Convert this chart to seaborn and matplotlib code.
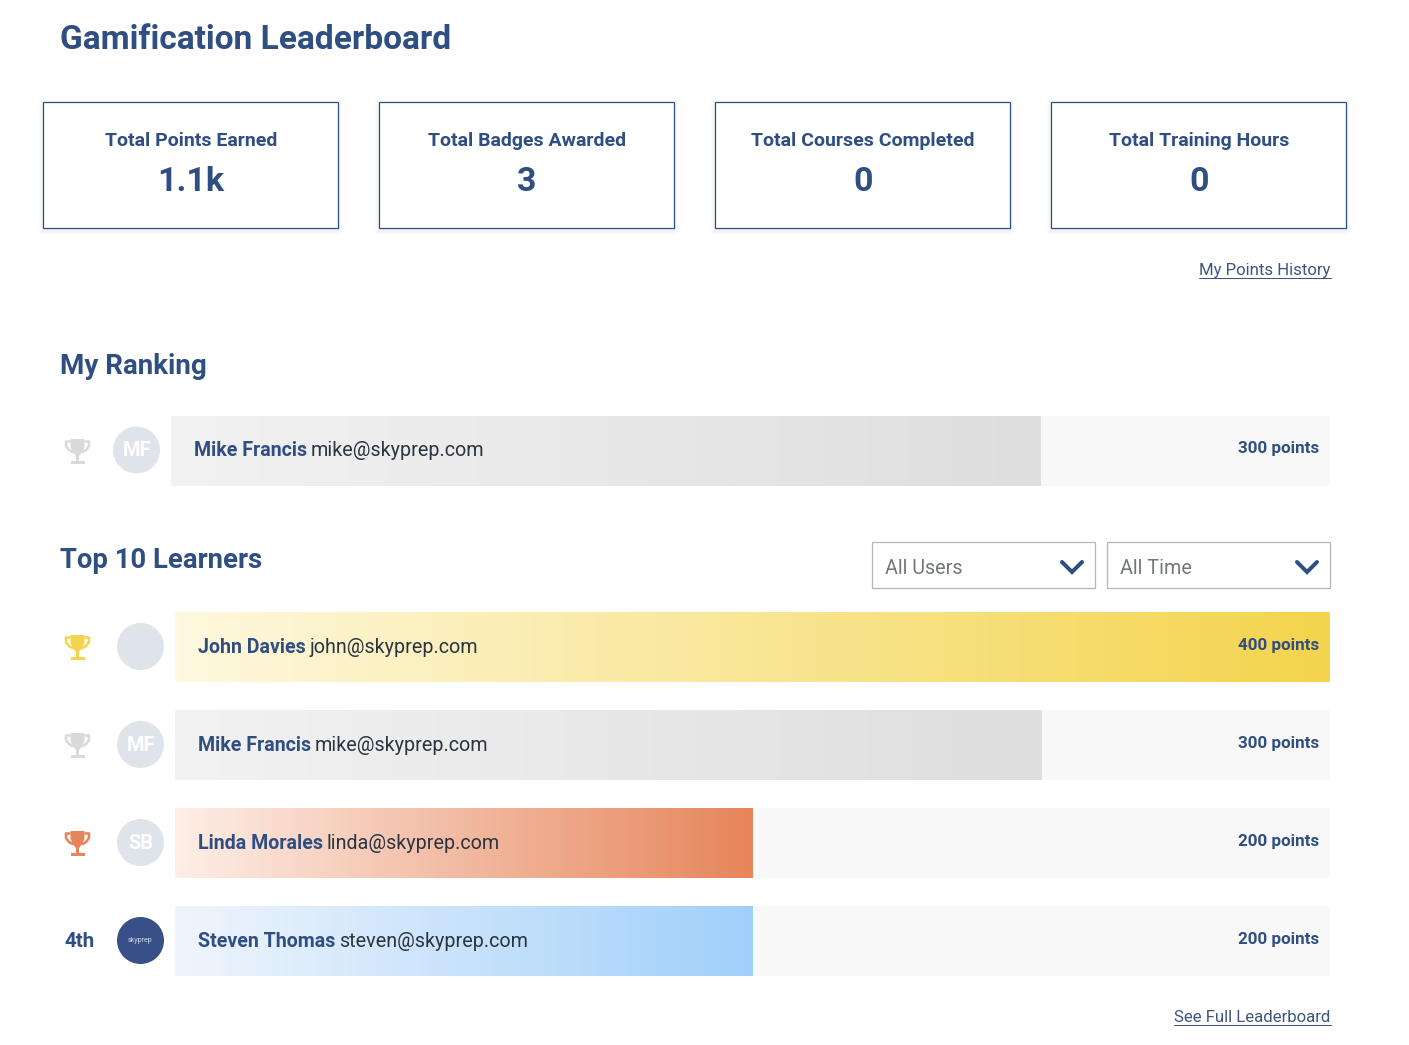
import matplotlib
matplotlib.use("Agg")
import matplotlib.pyplot as plt
import numpy as np
import seaborn as sns
from matplotlib.colors import LinearSegmentedColormap
from matplotlib.patches import Circle, Polygon, Rectangle

# DATA
card_titles = ["Total Points Earned", "Total Badges Awarded", "Total Courses Completed", "Total Training Hours"]
card_values = ["1.1k", "3", "0", "0"]

my_name = ["Mike Francis"]
my_email = ["mike@skyprep.com"]
my_points = [300]

names = ["John Davies", "Mike Francis", "Linda Morales", "Steven Thomas"]
emails = ["john@skyprep.com", "mike@skyprep.com", "linda@skyprep.com", "steven@skyprep.com"]
points = [400, 300, 200, 200]
initials = ["", "MF", "SB", "skyprep"]
max_points = 400

# STYLE
W, H = 1409, 1045
NAVY = "#2F4E82"
DARK = "#2B3440"
TRACK = "#F8F8F8"
GOLD = ("#FEF8DF", "#F4D44D")
SILVER = ("#F2F2F2", "#DEDEDE")
BRONZE = ("#FEEEE7", "#E6855B")
BLUE = ("#F0F5FC", "#A0D0FA")

sns.set_theme(style="white")
plt.rcParams["font.family"] = ["Roboto", "DejaVu Sans"]


def px(size):
    return size * 0.72


def bar_axes(fig, left, right, top, bottom):
    return fig.add_axes([left / W, 1 - bottom / H, (right - left) / W, (bottom - top) / H])


def gradient_bars(ax, labels, values, colors, width):
    # grey track at full scale, coloured bar on top with a gradient fill
    sns.barplot(x=[max_points] * len(labels), y=labels, color=TRACK, saturation=1, width=width, ax=ax)
    sns.barplot(x=values, y=labels, color=TRACK, saturation=1, width=width, ax=ax)
    for patch in ax.patches:
        patch.set_snap(False)
        patch.set_linewidth(0)
    for patch, (c0, c1) in zip(ax.containers[-1], colors):
        cmap = LinearSegmentedColormap.from_list("grad", [c0, c1])
        x0, y0 = patch.get_x(), patch.get_y()
        extent = [x0, x0 + patch.get_width(), y0 + patch.get_height(), y0]
        ax.imshow(np.linspace(0, 1, 256)[None, :], cmap=cmap, extent=extent, aspect="auto", zorder=3,
                  interpolation="nearest")
    ax.set_xlim(0, max_points)
    ax.set_ylim(len(labels) - 0.5, -0.5)
    ax.axis("off")


def trophy(ax, cx, top, color):
    # handles
    ax.plot([cx - 8, cx - 11.5, cx - 11.5, cx - 8.5, cx - 5], [top + 2.5, top + 2.5, top + 7, top + 11, top + 13],
            color=color, lw=px(2.6), solid_joinstyle="round", zorder=5)
    ax.plot([cx + 8, cx + 11.5, cx + 11.5, cx + 8.5, cx + 5], [top + 2.5, top + 2.5, top + 7, top + 11, top + 13],
            color=color, lw=px(2.6), solid_joinstyle="round", zorder=5)
    # cup, stem, base
    ax.add_patch(Polygon([(cx - 7, top), (cx + 7, top), (cx + 7, top + 8), (cx + 4, top + 14), (cx + 1.5, top + 17),
                          (cx + 1.5, top + 22), (cx - 1.5, top + 22), (cx - 1.5, top + 17), (cx - 4, top + 14),
                          (cx - 7, top + 8)], closed=True, fc=color, ec="none", zorder=5))
    ax.add_patch(Rectangle((cx - 7, top + 21.5), 14, 3.5, fc=color, ec="none", zorder=5))


def name_email(ax, x, y, name, email):
    t = ax.text(x, y, name, color=NAVY, fontsize=px(19.6), fontweight="bold", va="center", zorder=6)
    bb = t.get_window_extent(fig.canvas.get_renderer())
    ax.text(x + bb.width + 4, y, email, color=DARK, fontsize=px(19.8), va="center", zorder=6)


def link(ax, x, y, label):
    t = ax.text(x, y, label, color="#3D5680", fontsize=px(16.7), ha="right", va="center", zorder=6)
    bb = t.get_window_extent(fig.canvas.get_renderer())
    ax.plot([x - bb.width, x], [y + 7.5, y + 7.5], color="#3D5680", lw=0.72, zorder=6)


fig = plt.figure(figsize=(W / 100, H / 100), dpi=100, facecolor="white")

# bars
rank_ax = bar_axes(fig, 171, 1330, 416, 486)
gradient_bars(rank_ax, my_name, my_points, [SILVER], 1.0)

top_ax = bar_axes(fig, 175, 1330, 598, 990)
gradient_bars(top_ax, names, points, [GOLD, SILVER, BRONZE, BLUE], 70 / 98)

# page layout layer, in pixels
page = fig.add_axes([0, 0, 1, 1], zorder=10)
page.set_xlim(0, W)
page.set_ylim(H, 0)
page.axis("off")
page.patch.set_alpha(0)

page.text(60, 40, "Gamification Leaderboard", color=NAVY, fontsize=px(33.5), fontweight="bold", va="center")
page.text(60, 367, "My Ranking", color=NAVY, fontsize=px(27.8), fontweight="bold", va="center")
page.text(60, 560, "Top 10 Learners", color=NAVY, fontsize=px(27.5), fontweight="bold", va="center")

for i, (label, value) in enumerate(zip(card_titles, card_values)):
    x0 = 43 + 336 * i
    for grow, alpha in [(6, 0.012), (4, 0.02), (2, 0.03)]:
        page.add_patch(Rectangle((x0 - grow + 1, 102 - grow + 3), 295 + 2 * grow - 2, 126 + 2 * grow - 2,
                                 fc="black", ec="none", alpha=alpha))
    page.add_patch(Rectangle((x0, 102), 295, 126, fc="white", ec=NAVY, lw=0.9))
    page.text(x0 + 148, 141, label, color=NAVY, fontsize=px(19.5), fontweight="bold", ha="center", va="center")
    page.text(x0 + 148, 182, value, color=NAVY, fontsize=px(34), fontweight="bold", ha="center", va="center")

link(page, 1330.5, 270.5, "My Points History")
link(page, 1330.5, 1017.5, "See Full Leaderboard")

# my ranking row
trophy(page, 77.5, 439, "#DADADA")
page.add_patch(Circle((136.5, 450), 23.5, fc="#DFE4EB", ec="none"))
page.text(136.5, 451, "MF", color="white", fontsize=px(20), fontweight="bold", ha="center", va="center")
name_email(page, 194, 451, my_name[0], my_email[0])
page.text(1319, 449, f"{my_points[0]} points", color=NAVY, fontsize=px(17), fontweight="bold", ha="right",
          va="center")

# dropdowns
for x0, label in [(872, "All Users"), (1107, "All Time")]:
    page.add_patch(Rectangle((x0, 542), 223, 46, fc="white", ec="#B5B5B5", lw=0.9))
    page.text(x0 + 13, 568, label, color="#72767B", fontsize=px(19.8), va="center")
    page.plot([x0 + 190, x0 + 200, x0 + 210], [562, 572, 562], color=NAVY, lw=px(4), solid_capstyle="round",
              solid_joinstyle="miter")

# top learners rows
trophy_colors = ["#F4D44D", "#DADADA", "#E6855B"]
for i, (name, email, pts, ini) in enumerate(zip(names, emails, points, initials)):
    y = 646.5 + 98 * i
    if i < 3:
        trophy(page, 77.5, y - 11.5, trophy_colors[i])
    else:
        page.text(79.5, y + 1, f"{i + 1}th", color=NAVY, fontsize=px(20.5), fontweight="bold", ha="center", va="center")
    if ini == "skyprep":
        page.add_patch(Circle((140.5, y), 23.5, fc="#384F88", ec="none"))
        page.text(140.5, y, ini, color="#D5DBE8", fontsize=px(7), ha="center", va="center")
    else:
        page.add_patch(Circle((140.5, y), 23.5, fc="#DFE4EB", ec="none"))
        page.text(140.5, y + 1, ini, color="white", fontsize=px(20), fontweight="bold", ha="center", va="center")
    name_email(page, 198, y + 1, name, email)
    page.text(1319, y - 1, f"{pts} points", color=NAVY, fontsize=px(17), fontweight="bold", ha="right", va="center",
              zorder=6)

fig.savefig("out.png", dpi=100, facecolor="white")
